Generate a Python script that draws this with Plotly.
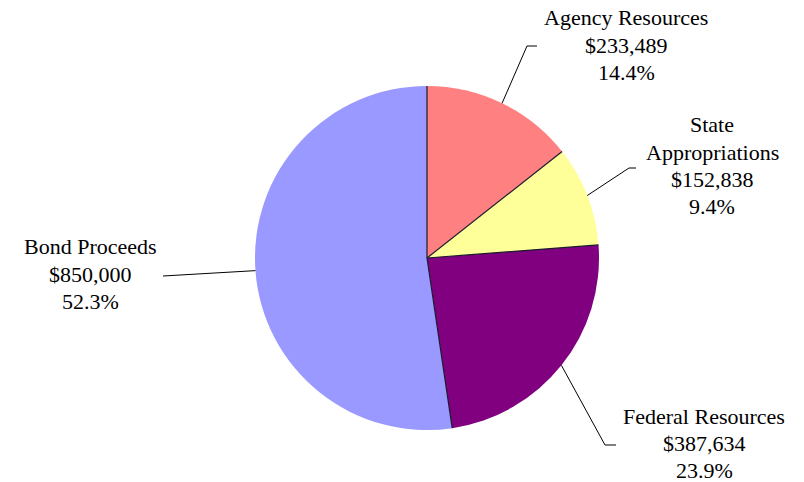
import math
import plotly.graph_objects as go

labels = ["Agency Resources", "State Appropriations", "Federal Resources", "Bond Proceeds"]
label_text = ["Agency Resources", "State<br>Appropriations", "Federal Resources", "Bond Proceeds"]
values = [233489, 152838, 387634, 850000]
colors = ["#FF8080", "#FFFF99", "#800080", "#9999FF"]

W, H = 804, 482
CX, CY, R = 427, 258, 172  # pie centre / radius in pixels

fig = go.Figure(go.Pie(
    labels=labels, values=values, sort=False, direction="clockwise", rotation=0,
    marker=dict(colors=colors, line=dict(width=0)),
    textinfo="none", hoverinfo="label+value+percent", showlegend=False,
    domain=dict(x=[(CX - R) / W, (CX + R) / W], y=[(H - CY - R) / H, (H - CY + R) / H]),
))

def px(x, y):
    return x / W, 1 - y / H

total = sum(values)
cum = 0
mids, bounds = [], [0.0]
for v in values:
    mids.append((cum + v / 2) / total * 2 * math.pi)
    cum += v
    bounds.append(cum / total * 2 * math.pi)

# radial separators between slices (no outer outline, as in the reference)
cx0, cy0 = px(CX, CY)
for b in bounds[:-1]:
    bx, by = px(CX + R * math.sin(b), CY - R * math.cos(b))
    fig.add_shape(type="line", xref="paper", yref="paper", x0=cx0, y0=cy0, x1=bx, y1=by,
                  line=dict(color="#1a1a2e", width=1.2))

# label placement (pixel): text centre x, first-line centre y, leader elbow, leader end
place = [
    dict(tx=626, ty=18, elbow=(527, 46), end=(537, 46)),
    dict(tx=712, ty=125, elbow=(629, 168), end=(636, 168)),
    dict(tx=704, ty=416, elbow=(605, 445), end=(616, 445)),
    dict(tx=90, ty=247, elbow=(163, 276), end=(163, 276)),
]

font = dict(family="Liberation Serif, Times New Roman, serif", size=22, color="#000000")
for lab, v, a, p in zip(label_text, values, mids, place):
    ex = CX + R * math.sin(a)
    ey = CY - R * math.cos(a)
    pct = v / total * 100
    lines = lab.split("<br>") + [f"${v:,.0f}", f"{pct:.1f}%"]
    for i, t in enumerate(lines):
        x, y = px(p["tx"], p["ty"] + i * 27.2)
        fig.add_annotation(x=x, y=y, xref="paper", yref="paper", text=t, showarrow=False,
                           font=font, xanchor="center", yanchor="middle")
    x0, y0 = px(ex, ey)
    x1, y1 = px(*p["elbow"])
    x2, y2 = px(*p["end"])
    fig.add_shape(type="path", xref="paper", yref="paper",
                  path=f"M {x0} {y0} L {x1} {y1} L {x2} {y2}",
                  line=dict(color="#000000", width=1))

fig.update_layout(width=W, height=H, margin=dict(l=0, r=0, t=0, b=0),
                  paper_bgcolor="white", plot_bgcolor="white")
fig.write_html("out.html", config={"displayModeBar": False},
               post_script="document.body.style.margin='0';document.body.style.overflow='hidden';")
